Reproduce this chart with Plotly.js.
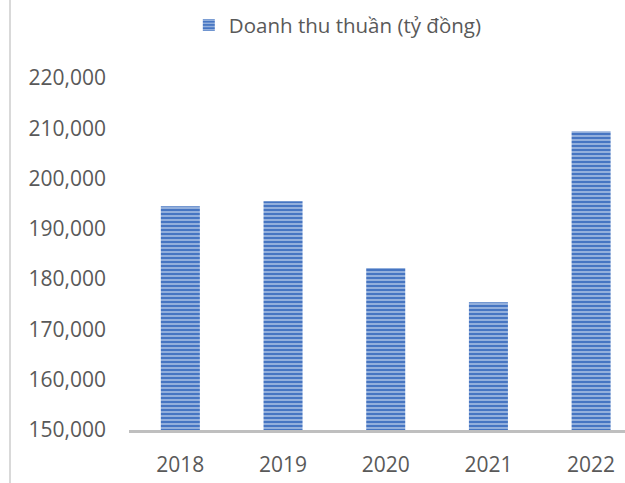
<!DOCTYPE html>
<html>
<head>
<meta charset="utf-8">
<script src="https://cdn.plot.ly/plotly-3.0.1.min.js"></script>
<style>html,body{margin:0;padding:0;background:#fff;}#chart{width:625px;height:483px;}</style>
</head>
<body>
<div id="chart"></div>
<script>
const years = ["2018", "2019", "2020", "2021", "2022"];
const revenue = [194500, 195500, 182200, 175400, 209400];
const seriesName = "Doanh thu thuần (tỷ đồng)";
const yTicks = [150000, 160000, 170000, 180000, 190000, 200000, 210000, 220000];

const trace = {
  type: "bar",
  x: years,
  y: revenue,
  name: seriesName,
  width: 0.38,
  marker: {
    color: "#4472c4",
    line: {width: 0},
    pattern: {shape: "-", size: 4, solidity: 0.3, fgcolor: "#c6d6ee", bgcolor: "#4675c2", fillmode: "replace"}
  },
  showlegend: true,
  hoverinfo: "skip"
};

const font = {family: "Open Sans, sans-serif", size: 21, color: "#595959"};

const layout = {
  width: 625, height: 483,
  margin: {l: 129, r: 0, t: 78, b: 53},
  paper_bgcolor: "#ffffff",
  plot_bgcolor: "#ffffff",
  font: font,
  showlegend: true,
  legend: {
    orientation: "h",
    x: 0.421, xanchor: "center",
    y: 0.948, yanchor: "middle",
    yref: "container",
    font: {family: "Open Sans, sans-serif", size: 20.5, color: "#595959"},
    bgcolor: "rgba(0,0,0,0)"
  },
  xaxis: {
    type: "category",
    range: [-0.5, 4.33],
    showline: true, linecolor: "#bfbfbf", linewidth: 3,
    showgrid: false, zeroline: false,
    ticks: "", ticklabelstandoff: 14,
    tickfont: font
  },
  yaxis: {
    range: [150000, 220000],
    tickmode: "array", tickvals: yTicks,
    tickformat: ",d",
    showline: false, showgrid: false, zeroline: false,
    ticks: "", ticklabelstandoff: 22,
    tickfont: font
  },
  shapes: [{
    type: "line", xref: "paper", yref: "paper",
    x0: (10 - 129) / 496, x1: (10 - 129) / 496,
    y0: -53 / 352, y1: 1 + 78 / 352,
    line: {color: "#d9d9d9", width: 2}
  }]
};

Plotly.newPlot("chart", [trace], layout, {displayModeBar: false, staticPlot: true});
</script>
</body>
</html>
